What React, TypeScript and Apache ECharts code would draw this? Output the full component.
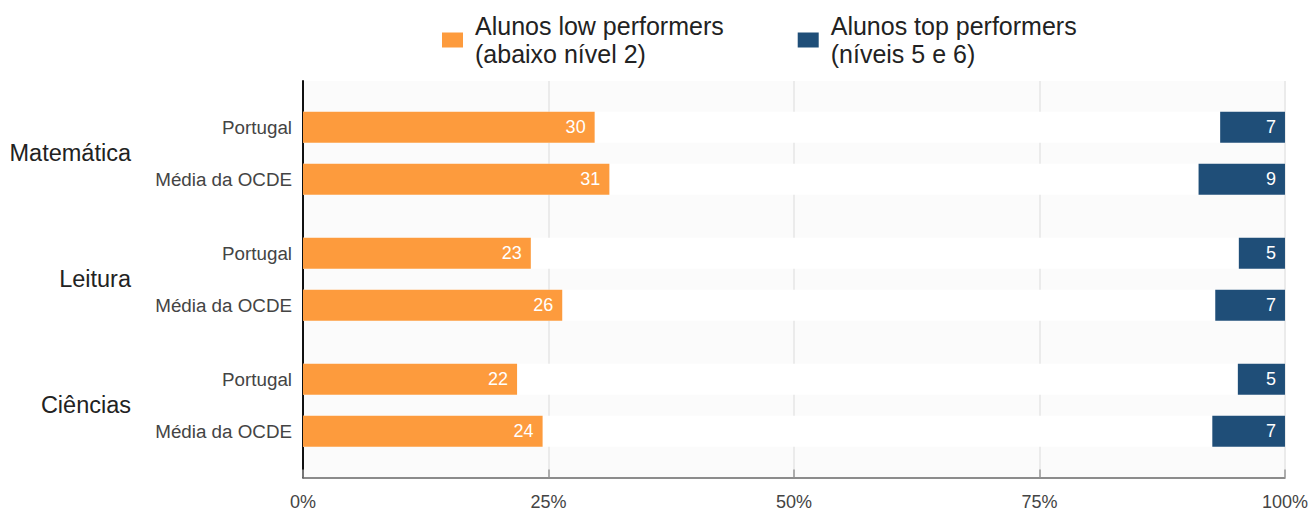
import React, { useEffect, useRef } from "react";
import * as echarts from "echarts";

const groups = ["Matemática", "Leitura", "Ciências"];
const subgroups = ["Portugal", "Média da OCDE"];
// one value per bar row, in order: Mat/Portugal, Mat/OCDE, Leit/Portugal, Leit/OCDE, Ciên/Portugal, Ciên/OCDE
const lowPerformers = [29.7, 31.2, 23.2, 26.4, 21.8, 24.4];
const topPerformers = [6.6, 8.8, 4.7, 7.1, 4.8, 7.4];
const xTicks = [0, 25, 50, 75, 100];

const LOW_NAME = "Alunos low performers\n(abaixo nível 2)";
const TOP_NAME = "Alunos top performers\n(níveis 5 e 6)";

export default function App() {
  const ref = useRef<HTMLDivElement>(null);

  useEffect(() => {
    if (!ref.current) return;
    const chart = echarts.init(ref.current, undefined, { renderer: "svg" });

    // fine-grained slot layout of the category axis
    const TOP_PAD = 12;
    const IN_GROUP = 14;
    const BETWEEN = 20;
    const rowSlots: number[] = [];
    const groupSlots: number[] = [];
    let s = TOP_PAD;
    groups.forEach((_, gi) => {
      const first = s;
      subgroups.forEach((_, si) => {
        rowSlots.push(s);
        if (si < subgroups.length - 1) s += IN_GROUP;
      });
      groupSlots.push((first + s) / 2);
      if (gi < groups.length - 1) s += BETWEEN;
    });
    const N = s + 13;

    const rowLabels: string[] = new Array(N).fill("");
    const groupLabels: string[] = new Array(N).fill("");
    const lowData: (number | null)[] = new Array(N).fill(null);
    const midData: (number | null)[] = new Array(N).fill(null);
    const topData: (number | null)[] = new Array(N).fill(null);
    const bgData: (number | null)[] = new Array(N).fill(null);
    rowSlots.forEach((slot, i) => {
      rowLabels[slot] = subgroups[i % subgroups.length];
      lowData[slot] = lowPerformers[i];
      topData[slot] = topPerformers[i];
      midData[slot] = 100 - lowPerformers[i] - topPerformers[i];
      bgData[slot] = 100;
    });
    groupSlots.forEach((slot, i) => {
      groupLabels[slot] = groups[i];
    });
    const cats = rowLabels.map((_, i) => "c" + i);

    const font = "'Liberation Sans', Arial, Helvetica, sans-serif";
    const barW = 31;

    chart.setOption({
      animation: false,
      textStyle: { fontFamily: font },
      legend: {
        data: [LOW_NAME, TOP_NAME],
        left: 437,
        top: 7,
        itemWidth: 21,
        itemHeight: 15,
        itemGap: 74,
        icon: "rect",
        textStyle: {
          fontSize: 25,
          lineHeight: 28,
          color: "#222",
          fontFamily: font,
          padding: [0, 0, 0, 7],
        },
      },
      grid: {
        left: 303,
        right: 26,
        top: 81,
        bottom: 33.5,
        show: true,
        backgroundColor: "#fbfbfb",
        borderWidth: 0,
      },
      xAxis: {
        type: "value",
        min: xTicks[0],
        max: xTicks[xTicks.length - 1],
        interval: 25,
        axisLine: { show: true, lineStyle: { color: "#666", width: 1.5 } },
        axisTick: { show: true, inside: true, length: 8, lineStyle: { color: "#999", width: 1.5 } },
        splitLine: { show: true, lineStyle: { color: "#ebebeb", width: 2 } },
        axisLabel: {
          formatter: "{value}%",
          fontSize: 18,
          color: "#444",
          margin: 15,
          fontFamily: font,
        },
      },
      yAxis: [
        {
          type: "category",
          data: cats,
          inverse: true,
          axisLine: { show: true, onZero: false, lineStyle: { color: "#111", width: 2 } },
          axisTick: { show: false },
          splitLine: { show: false },
          axisLabel: {
            interval: 0,
            margin: 11,
            fontSize: 18.8,
            color: "#444",
            fontFamily: font,
            formatter: (_v: string, idx: number) => rowLabels[idx],
          },
        },
        {
          type: "category",
          data: cats,
          inverse: true,
          position: "left",
          offset: 160,
          axisLine: { show: false },
          axisTick: { show: false },
          splitLine: { show: false },
          axisLabel: {
            interval: 0,
            margin: 12,
            fontSize: 23.5,
            color: "#222",
            fontFamily: font,
            formatter: (_v: string, idx: number) => groupLabels[idx],
          },
        },
      ],
      series: [
        {
          name: "bg",
          type: "bar",
          data: bgData,
          barWidth: barW,
          barGap: "-100%",
          itemStyle: { color: "#ffffff" },
          silent: true,
          z: 1,
        },
        {
          name: LOW_NAME,
          type: "bar",
          stack: "all",
          data: lowData,
          barWidth: barW,
          barGap: "-100%",
          itemStyle: { color: "#FD9B3D" },
          z: 2,
          label: {
            show: true,
            position: "insideRight",
            offset: [-4, 0],
            color: "#fff",
            fontSize: 18,
            fontFamily: font,
            formatter: (p: any) => String(Math.round(p.value)),
          },
        },
        {
          name: "mid",
          type: "bar",
          stack: "all",
          data: midData,
          barWidth: barW,
          barGap: "-100%",
          itemStyle: { color: "rgba(0,0,0,0)" },
          silent: true,
          z: 2,
        },
        {
          name: TOP_NAME,
          type: "bar",
          stack: "all",
          data: topData,
          barWidth: barW,
          barGap: "-100%",
          itemStyle: { color: "#1F4E78" },
          z: 2,
          label: {
            show: true,
            position: "insideRight",
            offset: [-4, 0],
            color: "#fff",
            fontSize: 18,
            fontFamily: font,
            formatter: (p: any) => String(Math.round(p.value)),
          },
        },
      ],
    });

    return () => chart.dispose();
  }, []);

  return (
    <div
      ref={ref}
      style={{ position: "absolute", left: 0, top: 0, width: 1311, height: 511 }}
    />
  );
}
